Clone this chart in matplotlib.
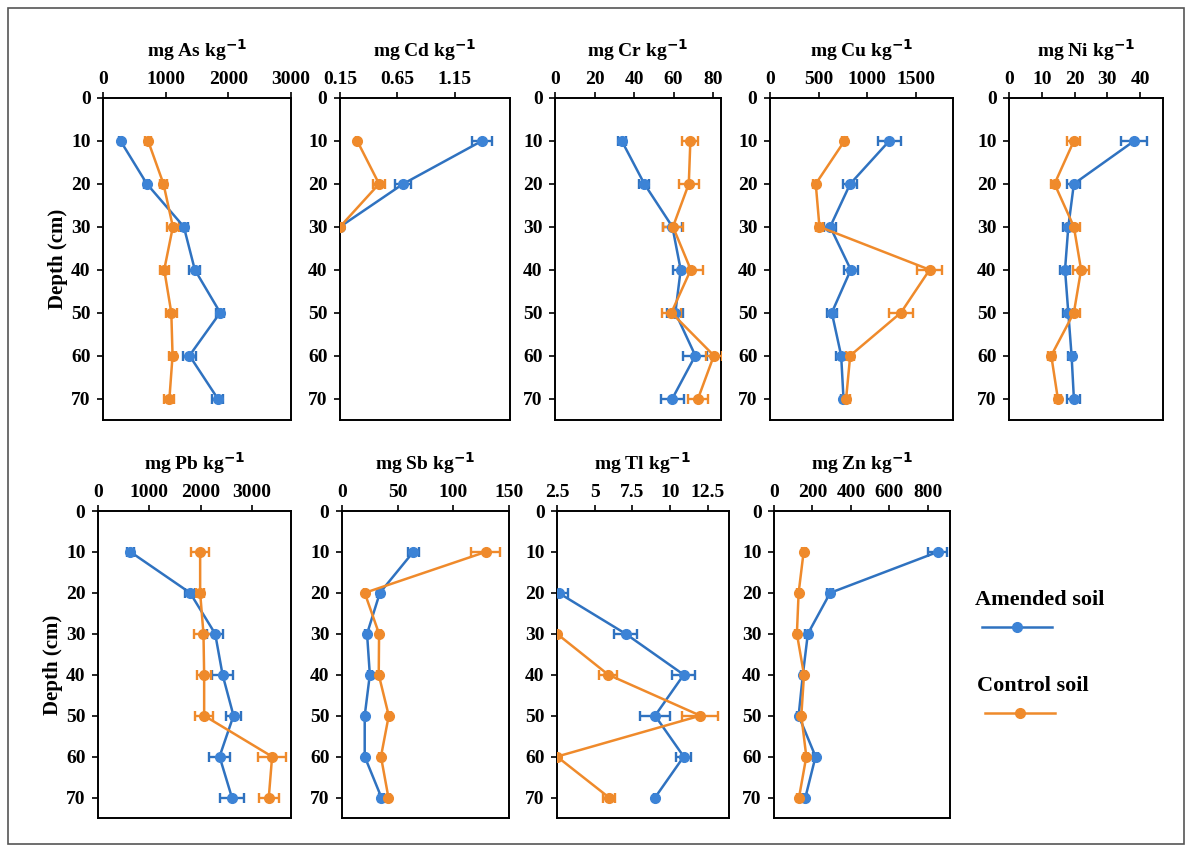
import numpy as np
import matplotlib
matplotlib.use('Agg')
import matplotlib.pyplot as plt
from matplotlib.lines import Line2D
from matplotlib.patches import Rectangle

nan = np.nan
depth = [10, 20, 30, 40, 50, 60, 70]

# amended soil (mean, error) and control soil (mean, error)
as_amended = [280, 700, 1290, 1465, 1870, 1380, 1830]
as_amended_err = [30, 40, 60, 90, 60, 100, 90]
as_control = [720, 965, 1115, 977, 1090, 1110, 1060]
as_control_err = [50, 50, 90, 70, 90, 60, 80]

cd_amended = [1.385, 0.70, 0.15, nan, nan, nan, nan]
cd_amended_err = [0.09, 0.07, 0.0, nan, nan, nan, nan]
cd_control = [0.30, 0.49, 0.15, nan, nan, nan, nan]
cd_control_err = [0.01, 0.05, 0.0, nan, nan, nan, nan]

cr_amended = [33.8, 45.2, 59.4, 63.6, 60.9, 71.0, 59.4]
cr_amended_err = [2, 2.5, 5, 4, 4, 6, 6]
cr_control = [68.5, 67.7, 59.7, 68.7, 58.9, 80.4, 72.4]
cr_control_err = [4, 5, 5, 6, 5, 4, 5]

cu_amended = [1225, 824, 618, 830, 635, 731, 755]
cu_amended_err = [120, 70, 60, 70, 50, 50, 30]
cu_control = [765, 470, 508, 1640, 1345, 824, 782]
cu_control_err = [30, 25, 40, 130, 120, 40, 40]

ni_amended = [38.2, 19.8, 18.1, 17.1, 18.1, 19.1, 19.8]
ni_amended_err = [3.9, 2, 1.5, 1.5, 1.5, 1, 2]
ni_control = [19.8, 13.9, 19.8, 22.0, 19.8, 12.9, 14.9]
ni_control_err = [2, 1, 2, 2.5, 2, 1, 1]

pb_amended = [633, 1794, 2283, 2427, 2640, 2368, 2609]
pb_amended_err = [60, 100, 150, 200, 150, 200, 230]
pb_control = [1990, 1990, 2055, 2068, 2068, 3392, 3327]
pb_control_err = [180, 80, 180, 130, 170, 270, 200]

sb_amended = [64, 34, 22.5, 25, 20.4, 20.4, 35.4]
sb_amended_err = [5, 3, 2, 2, 1, 1, 2]
sb_control = [129, 20.4, 33.3, 33, 42, 35, 41.7]
sb_control_err = [13, 1, 2, 2, 2, 2, 1.5]

tl_amended = [nan, 2.6, 7.05, 10.9, 9.0, 10.9, 9.0]
tl_amended_err = [nan, 0.6, 0.75, 0.75, 1.0, 0.5, 0.1]
tl_control = [nan, nan, 2.5, 5.9, 12.0, 2.5, 5.95]
tl_control_err = [nan, nan, 0.0, 0.6, 1.2, 0.0, 0.4]

zn_amended = [851, 292, 176, 150, 128, 216, 163]
zn_amended_err = [50, 15, 15, 10, 10, 15, 10]
zn_control = [154, 128, 119, 156, 142, 168, 130]
zn_control_err = [10, 10, 10, 10, 10, 10, 10]

panels = [
    ('As', as_amended, as_amended_err, as_control, as_control_err, (0, 3000), [0, 1000, 2000, 3000], ['0', '1000', '2000', '3000']),
    ('Cd', cd_amended, cd_amended_err, cd_control, cd_control_err, (0.15, 1.63), [0.15, 0.65, 1.15], ['0.15', '0.65', '1.15']),
    ('Cr', cr_amended, cr_amended_err, cr_control, cr_control_err, (0, 84), [0, 20, 40, 60, 80], ['0', '20', '40', '60', '80']),
    ('Cu', cu_amended, cu_amended_err, cu_control, cu_control_err, (0, 1880), [0, 500, 1000, 1500], ['0', '500', '1000', '1500']),
    ('Ni', ni_amended, ni_amended_err, ni_control, ni_control_err, (0, 47), [0, 10, 20, 30, 40], ['0', '10', '20', '30', '40']),
    ('Pb', pb_amended, pb_amended_err, pb_control, pb_control_err, (0, 3760), [0, 1000, 2000, 3000], ['0', '1000', '2000', '3000']),
    ('Sb', sb_amended, sb_amended_err, sb_control, sb_control_err, (0, 150), [0, 50, 100, 150], ['0', '50', '100', '150']),
    ('Tl', tl_amended, tl_amended_err, tl_control, tl_control_err, (2.5, 13.9), [2.5, 5, 7.5, 10, 12.5], ['2.5', '5', '7.5', '10', '12.5']),
    ('Zn', zn_amended, zn_amended_err, zn_control, zn_control_err, (0, 915), [0, 200, 400, 600, 800], ['0', '200', '400', '600', '800']),
]

# axes boxes in pixels: left, top, right, bottom
boxes = [
    (103, 98, 291, 420), (340, 98, 510, 420), (555, 98, 721, 420),
    (770, 98, 953, 420), (1009, 98, 1163, 420),
    (98, 511, 291, 818), (342, 511, 509, 818), (557, 511, 729, 818),
    (774, 511, 950, 818),
]

W, H = 1189, 848
BLUE = '#2F72C0'
BLUE_M = '#3C83D6'
ORANGE = '#EF8A2B'

plt.rcParams['font.family'] = ['Liberation Serif', 'DejaVu Serif']

fig = plt.figure(figsize=(W / 100, H / 100), dpi=100)
fig.patches.append(Rectangle((8 / W, 1 - 844 / H), 1176 / W, 836 / H,
                             transform=fig.transFigure, fill=False,
                             edgecolor='#555555', linewidth=1.2))


def series(ax, vals, errs, line, face):
    ax.errorbar(vals, depth, xerr=errs, color=line, linewidth=1.8,
                marker='o', markersize=7, markerfacecolor=face,
                markeredgecolor=face, ecolor=line, elinewidth=1.7,
                capsize=3.5, capthick=1.7, zorder=3)


for i, (el, am, am_err, co, co_err, xlim, xt, xtl) in enumerate(panels):
    l, t, r, b = boxes[i]
    ax = fig.add_axes([l / W, 1 - b / H, (r - l) / W, (b - t) / H])
    series(ax, am, am_err, BLUE, BLUE_M)
    series(ax, co, co_err, ORANGE, ORANGE)
    ax.set_xlim(*xlim)
    ax.set_ylim(75, 0)
    ax.set_yticks([0, 10, 20, 30, 40, 50, 60, 70])
    ax.set_xticks(xt)
    ax.set_xticklabels(xtl)
    ax.xaxis.tick_top()
    ax.tick_params(axis='both', direction='out', length=4, width=1.2,
                   labelsize=14, colors='black', pad=3)
    ax.tick_params(axis='y', pad=5)
    for lab in ax.get_xticklabels() + ax.get_yticklabels():
        lab.set_fontweight('bold')
    for s in ax.spines.values():
        s.set_linewidth(1.4)
    ax.set_title(f'mg {el} kg$^{{\\mathbf{{-1}}}}$', fontsize=14,
                 fontweight='bold', pad=30)
    if i in (0, 5):
        ax.set_ylabel('Depth (cm)', fontsize=15, fontweight='bold', labelpad=2)

# legend drawn at the right of the lower row
fig.text(975 / W, 1 - 600 / H, 'Amended soil', fontsize=16, fontweight='bold',
         ha='left', va='center')
fig.lines.append(Line2D([982 / W, 1052 / W], [1 - 627 / H, 1 - 627 / H],
                        transform=fig.transFigure, color=BLUE, linewidth=1.8))
fig.lines.append(Line2D([1017 / W], [1 - 627 / H], transform=fig.transFigure,
                        marker='o', markersize=7, color=BLUE_M, linestyle='none'))
fig.text(977 / W, 1 - 686 / H, 'Control soil', fontsize=16, fontweight='bold',
         ha='left', va='center')
fig.lines.append(Line2D([985 / W, 1055 / W], [1 - 713 / H, 1 - 713 / H],
                        transform=fig.transFigure, color=ORANGE, linewidth=1.8))
fig.lines.append(Line2D([1020 / W], [1 - 713 / H], transform=fig.transFigure,
                        marker='o', markersize=7, color=ORANGE, linestyle='none'))

fig.savefig('out.png', dpi=100)
